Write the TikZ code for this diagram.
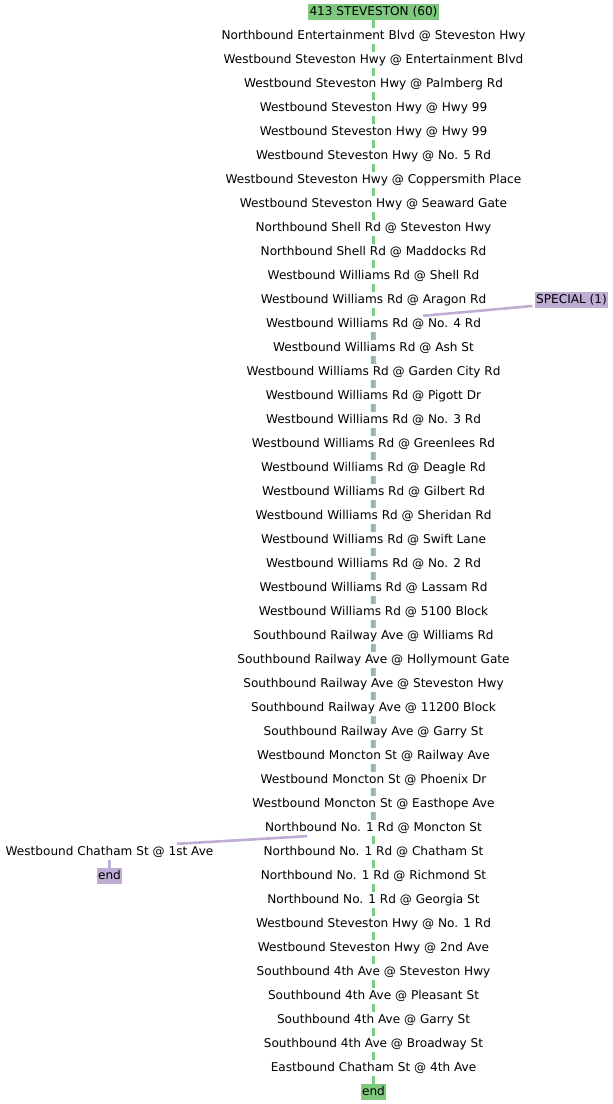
\documentclass[tikz,border=0pt]{standalone}
\usepackage{fontspec}
\setmainfont{DejaVu Sans}
\usepackage{xcolor}
\definecolor{routegreen}{HTML}{7FC97F}
\definecolor{routepurple}{HTML}{BEAED4}

\begin{document}
\begin{tikzpicture}[x=1pt,y=-1pt,
  font=\fontsize{12.1}{14}\selectfont,
  stoptext/.style={inner xsep=1.5pt,inner ysep=2pt,text height=9pt,text depth=3pt},
  headbox/.style={stoptext,inner ysep=2.25pt},
  greenhead/.style={headbox,fill=routegreen},
  purplehead/.style={headbox,fill=routepurple},
  greenline/.style={routegreen,line width=2.6pt},
  purpleline/.style={routepurple,line width=2.6pt}]

\useasboundingbox (0,-1) rectangle (613,1103);

%route 60 stops
\node [greenhead] (s0) at (373.5,11) {413 STEVESTON (60)} ;
\node [stoptext] (s1) at (373.5,35) {Northbound Entertainment Blvd @ Steveston Hwy} ;
\node [stoptext] (s2) at (373.5,59) {Westbound Steveston Hwy @ Entertainment Blvd} ;
\node [stoptext] (s3) at (373.5,83) {Westbound Steveston Hwy @ Palmberg Rd} ;
\node [stoptext] (s4) at (373.5,107) {Westbound Steveston Hwy @ Hwy 99} ;
\node [stoptext] (s5) at (373.5,131) {Westbound Steveston Hwy @ Hwy 99} ;
\node [stoptext] (s6) at (373.5,155) {Westbound Steveston Hwy @ No. 5 Rd} ;
\node [stoptext] (s7) at (373.5,179) {Westbound Steveston Hwy @ Coppersmith Place} ;
\node [stoptext] (s8) at (373.5,203) {Westbound Steveston Hwy @ Seaward Gate} ;
\node [stoptext] (s9) at (373.5,227) {Northbound Shell Rd @ Steveston Hwy} ;
\node [stoptext] (s10) at (373.5,251) {Northbound Shell Rd @ Maddocks Rd} ;
\node [stoptext] (s11) at (373.5,275) {Westbound Williams Rd @ Shell Rd} ;
\node [stoptext] (s12) at (373.5,299) {Westbound Williams Rd @ Aragon Rd} ;
\node [stoptext] (s13) at (373.5,323) {Westbound Williams Rd @ No. 4 Rd} ;
\node [stoptext] (s14) at (373.5,347) {Westbound Williams Rd @ Ash St} ;
\node [stoptext] (s15) at (373.5,371) {Westbound Williams Rd @ Garden City Rd} ;
\node [stoptext] (s16) at (373.5,395) {Westbound Williams Rd @ Pigott Dr} ;
\node [stoptext] (s17) at (373.5,419) {Westbound Williams Rd @ No. 3 Rd} ;
\node [stoptext] (s18) at (373.5,443) {Westbound Williams Rd @ Greenlees Rd} ;
\node [stoptext] (s19) at (373.5,467) {Westbound Williams Rd @ Deagle Rd} ;
\node [stoptext] (s20) at (373.5,491) {Westbound Williams Rd @ Gilbert Rd} ;
\node [stoptext] (s21) at (373.5,515) {Westbound Williams Rd @ Sheridan Rd} ;
\node [stoptext] (s22) at (373.5,539) {Westbound Williams Rd @ Swift Lane} ;
\node [stoptext] (s23) at (373.5,563) {Westbound Williams Rd @ No. 2 Rd} ;
\node [stoptext] (s24) at (373.5,587) {Westbound Williams Rd @ Lassam Rd} ;
\node [stoptext] (s25) at (373.5,611) {Westbound Williams Rd @ 5100 Block} ;
\node [stoptext] (s26) at (373.5,635) {Southbound Railway Ave @ Williams Rd} ;
\node [stoptext] (s27) at (373.5,659) {Southbound Railway Ave @ Hollymount Gate} ;
\node [stoptext] (s28) at (373.5,683) {Southbound Railway Ave @ Steveston Hwy} ;
\node [stoptext] (s29) at (373.5,707) {Southbound Railway Ave @ 11200 Block} ;
\node [stoptext] (s30) at (373.5,731) {Southbound Railway Ave @ Garry St} ;
\node [stoptext] (s31) at (373.5,755) {Westbound Moncton St @ Railway Ave} ;
\node [stoptext] (s32) at (373.5,779) {Westbound Moncton St @ Phoenix Dr} ;
\node [stoptext] (s33) at (373.5,803) {Westbound Moncton St @ Easthope Ave} ;
\node [stoptext] (s34) at (373.5,827) {Northbound No. 1 Rd @ Moncton St} ;
\node [stoptext] (s35) at (373.5,851) {Northbound No. 1 Rd @ Chatham St} ;
\node [stoptext] (s36) at (373.5,875) {Northbound No. 1 Rd @ Richmond St} ;
\node [stoptext] (s37) at (373.5,899) {Northbound No. 1 Rd @ Georgia St} ;
\node [stoptext] (s38) at (373.5,923) {Westbound Steveston Hwy @ No. 1 Rd} ;
\node [stoptext] (s39) at (373.5,947) {Westbound Steveston Hwy @ 2nd Ave} ;
\node [stoptext] (s40) at (373.5,971) {Southbound 4th Ave @ Steveston Hwy} ;
\node [stoptext] (s41) at (373.5,995) {Southbound 4th Ave @ Pleasant St} ;
\node [stoptext] (s42) at (373.5,1019) {Southbound 4th Ave @ Garry St} ;
\node [stoptext] (s43) at (373.5,1043) {Southbound 4th Ave @ Broadway St} ;
\node [stoptext] (s44) at (373.5,1067) {Eastbound Chatham St @ 4th Ave} ;
\node [greenhead] (s45) at (373.5,1091) {end} ;

%special trip stops
\node [purplehead] (sp) at (571.5,299) {SPECIAL (1)} ;
\node [stoptext] (wc) at (109.5,851) {Westbound Chatham St @ 1st Ave} ;
\node [purplehead] (pend) at (109.5,875) {end} ;

%route 60 line
\foreach \i [evaluate=\i as \j using int(\i+1)] in {0,...,12,34,35,...,44}
  \draw [greenline] (s\i) -- (s\j) ;
\foreach \i [evaluate=\i as \j using int(\i+1)] in {13,...,33}
  \draw [greenline,transform canvas={xshift=-1.3pt}] (s\i) -- (s\j) ;

%special trip line
\draw [purpleline] ([shift={(-2pt,-6pt)}]sp.west) -- ([xshift=49.5pt]s13.north) ;
\foreach \i [evaluate=\i as \j using int(\i+1)] in {13,...,33}
  \draw [purpleline,transform canvas={xshift=1.3pt}] (s\i) -- (s\j) ;
\draw [purpleline] ([xshift=-66.5pt]s34.south) -- ([xshift=67.5pt]wc.north) ;
\draw [purpleline] (wc) -- (pend) ;

\end{tikzpicture}
\end{document}
